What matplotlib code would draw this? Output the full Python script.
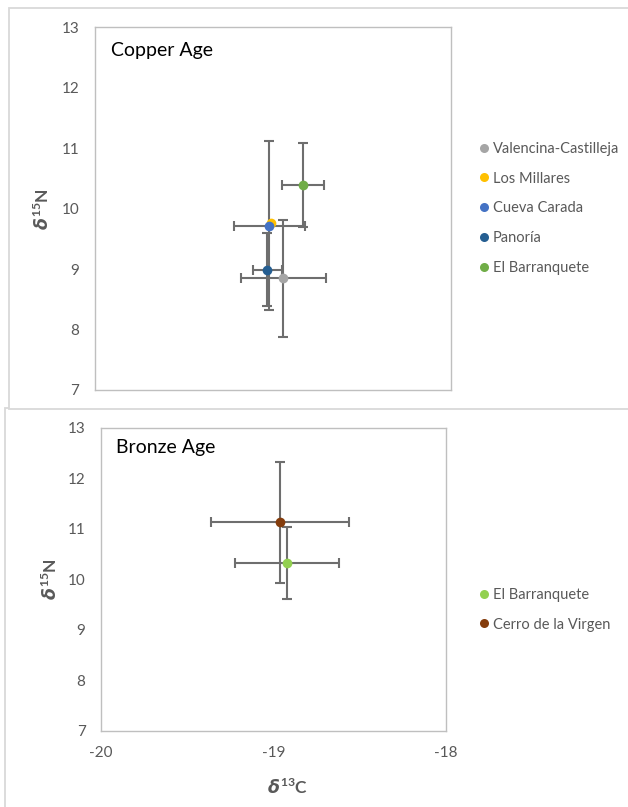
import matplotlib
matplotlib.use('Agg')
import matplotlib.pyplot as plt
from matplotlib.patches import Rectangle
from matplotlib.lines import Line2D
import numpy as np

# Copper Age: mean d13C / d15N with 1 sd bars (nan = no bar)
cu_sites = ['Valencina-Castilleja', 'Los Millares', 'Cueva Carada', 'Panoría', 'El Barranquete']
cu_d13c = [-18.94, -19.01, -19.02, -19.03, -18.83]
cu_d15n = [8.85, 9.76, 9.72, 8.99, 10.39]
cu_sd13c = [0.24, np.nan, 0.20, 0.08, 0.12]
cu_sd15n = [0.97, np.nan, 1.40, 0.60, 0.70]
cu_colors = ['#A5A5A5', '#FFC000', '#4472C4', '#255E91', '#70AD47']

# Bronze Age
br_sites = ['El Barranquete', 'Cerro de la Virgen']
br_d13c = [-18.92, -18.96]
br_d15n = [10.33, 11.13]
br_sd13c = [0.30, 0.40]
br_sd15n = [0.71, 1.20]
br_colors = ['#92D050', '#843C0C']

xticks = [-20, -19, -18]
yticks = [7, 8, 9, 10, 11, 12, 13]

plt.rcParams['font.family'] = ['Lato', 'DejaVu Sans']
plt.rcParams['mathtext.fontset'] = 'custom'
plt.rcParams['mathtext.rm'] = 'Lato'
plt.rcParams['mathtext.bf'] = 'Lato:bold'
plt.rcParams['mathtext.it'] = 'DejaVu Sans:italic:bold'

grey = '#595959'
W, H = 628, 807
fig = plt.figure(figsize=(W / 100, H / 100), dpi=100)


def px_axes(l, t, r, b):
    return fig.add_axes([l / W, 1 - b / H, (r - l) / W, (b - t) / H])


# chart-area frames, kept behind the axes
fig.add_artist(Rectangle((5 / W, -0.05), 1.1, 1 - 408 / H + 0.05, transform=fig.transFigure,
                         fill=False, ec='#D9D9D9', lw=1.3, zorder=-2))
fig.add_artist(Rectangle((9 / W, 1 - 409 / H), 1.1, (409 - 8) / H, transform=fig.transFigure,
                         fill=True, fc='white', ec='#D9D9D9', lw=1.3, zorder=-1))

ylabel = r'$\mathit{\delta}^{\mathbf{15}}\mathbf{N}$'
xlabel = r'$\mathit{\delta}^{\mathbf{13}}\mathbf{C}$'


def panel(ax, x, y, sx, sy, colors, sites, title, legend_y):
    for i in range(len(x)):
        if not np.isnan(sx[i]):
            ax.errorbar(x[i], y[i], xerr=sx[i], yerr=sy[i], fmt='none', ecolor='#6E6E6E',
                        elinewidth=1.5, capsize=3.5, capthick=1.5, zorder=2)
    for i in range(len(x)):
        ax.plot(x[i], y[i], 'o', color=colors[i], ms=7, mec='none', zorder=3 + i)
    ax.set_xlim(-20, -18)
    ax.set_ylim(7, 13)
    ax.set_yticks(yticks)
    for s in ax.spines.values():
        s.set_color('#BFBFBF')
        s.set_linewidth(1.0)
    ax.tick_params(length=0, labelsize=11, labelcolor=grey, pad=11)
    ax.text(0.045, 0.935, title, transform=ax.transAxes, fontsize=14, color='black',
            va='center', ha='left')
    handles = [Line2D([], [], ls='none', marker='o', color=c, ms=6.5, mec='none') for c in colors]
    fig.legend(handles, sites, loc='upper left', bbox_to_anchor=(469 / W, 1 - legend_y / H),
               frameon=False, fontsize=10.5, labelcolor=grey, handletextpad=0.05,
               handlelength=1.2, labelspacing=1.08, borderaxespad=0)


ax1 = px_axes(94.5, 27.3, 451, 390)
panel(ax1, cu_d13c, cu_d15n, cu_sd13c, cu_sd15n, cu_colors, cu_sites, 'Copper Age', 136)
ax1.set_xticks([])
ax1.set_ylabel(ylabel, fontsize=12.5, color=grey)
ax1.yaxis.set_label_coords(-0.119, 0.5)

ax2 = px_axes(100.9, 427.7, 445.7, 731)
panel(ax2, br_d13c, br_d15n, br_sd13c, br_sd15n, br_colors, br_sites, 'Bronze Age', 582)
ax2.set_xticks(xticks)
ax2.set_xticklabels([str(t) for t in xticks])
ax2.set_ylabel(ylabel, fontsize=12.5, color=grey)
ax2.yaxis.set_label_coords(-0.119, 0.5)
ax2.set_xlabel(xlabel, fontsize=12.5, color=grey)
ax2.xaxis.set_label_coords(0.54, -0.155)

fig.savefig('out.png', dpi=100)
